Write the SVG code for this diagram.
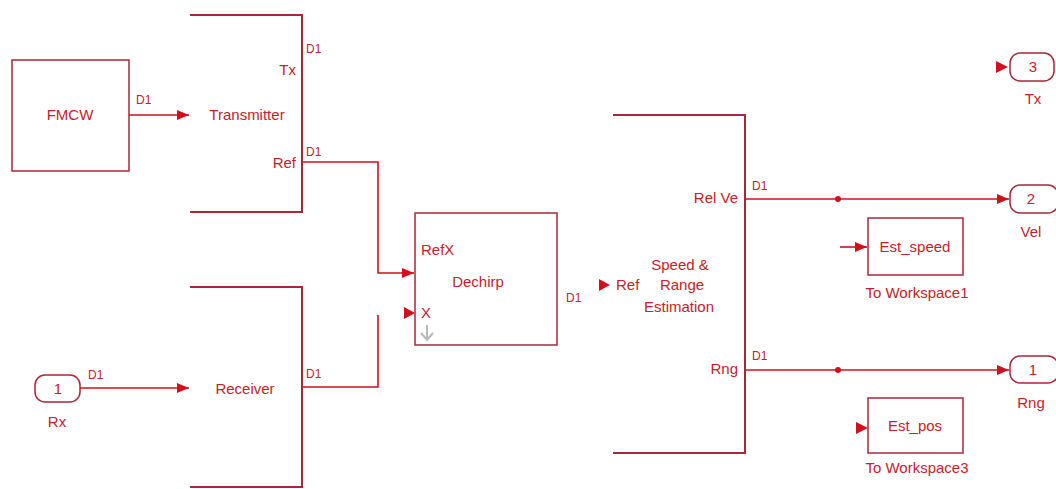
<svg xmlns="http://www.w3.org/2000/svg" width="1056" height="489" viewBox="0 0 1056 489">
<defs>
<marker id="ah" markerWidth="12" markerHeight="10" refX="12" refY="5" orient="auto" markerUnits="userSpaceOnUse">
<path d="M0,0 L12,5 L0,10 Z" fill="#d0101c"/>
</marker>
<style>
text{font-family:"Liberation Sans",Arial,sans-serif;font-size:15px;fill:#c8202a}
.m{text-anchor:middle}
.e{text-anchor:end}
.s{font-size:12px}
.box{fill:#fff;stroke:#a8283a;stroke-width:1.5}
.edge{fill:none;stroke:#a8283a;stroke-width:2}
.w{fill:none;stroke:#d0101c;stroke-width:1.6}
.port{fill:#fff;stroke:#a8283a;stroke-width:1.5}
.tri{fill:#d0101c}
</style>
</defs>
<rect width="1056" height="489" fill="#fff"/>

<g id="fmcw">
<rect class="box" x="12" y="60" width="117" height="111"/>
<text class="m" x="70" y="120">FMCW</text>
</g>

<g id="transmitter">
<path class="edge" d="M190,15 H302 V212 H190"/>
<text class="m" x="247" y="120">Transmitter</text>
<text class="e" x="296" y="75">Tx</text>
<text class="e" x="296" y="168">Ref</text>
</g>

<g id="receiver">
<path class="edge" d="M190,287 H302 V487 H190"/>
<text class="m" x="245" y="394">Receiver</text>
</g>

<g id="rx">
<rect class="port" x="35" y="375" width="45" height="27" rx="10"/>
<text class="m" x="58" y="394">1</text>
<text class="m" x="57" y="427">Rx</text>
</g>

<g id="dechirp">
<rect class="box" x="415" y="213" width="142" height="132"/>
<text x="421" y="255">RefX</text>
<text class="m" x="478" y="287">Dechirp</text>
<text x="421" y="318">X</text>
<path d="M427,325 V338 M421,333 L427,340 L433,333" fill="none" stroke="#b8b8b8" stroke-width="2"/>
</g>

<g id="speed_range">
<path class="edge" d="M613,115 H745 V453 H613"/>
<text class="e" x="738" y="203">Rel Ve</text>
<text class="e" x="738" y="374">Rng</text>
<text class="m" x="680" y="270">Speed &amp;</text>
<text class="m" x="682" y="290">Range</text>
<text class="m" x="679" y="312">Estimation</text>
<text x="616" y="290">Ref</text>
</g>

<g id="out_tx">
<rect class="port" x="1010" y="53" width="44" height="28" rx="10"/>
<text class="m" x="1033" y="72">3</text>
<text class="m" x="1033" y="104">Tx</text>
</g>

<g id="out_vel">
<rect class="port" x="1010" y="185" width="48" height="28" rx="10"/>
<text class="m" x="1031" y="204">2</text>
<text class="m" x="1031" y="237">Vel</text>
</g>

<g id="out_rng">
<rect class="port" x="1010" y="356" width="48" height="27" rx="10"/>
<text class="m" x="1033" y="375">1</text>
<text class="m" x="1031" y="408">Rng</text>
</g>

<g id="est_speed">
<rect class="box" x="868" y="218" width="95" height="57"/>
<text class="m" x="915" y="252">Est_speed</text>
<text class="m" x="917" y="298">To Workspace1</text>
</g>

<g id="est_pos">
<rect class="box" x="868" y="398" width="95" height="55"/>
<text class="m" x="915" y="431">Est_pos</text>
<text class="m" x="917" y="473">To Workspace3</text>
</g>

<g id="connectors">
<path class="w" d="M129,115 H189" marker-end="url(#ah)"/>
<path class="w" d="M80,388 H189" marker-end="url(#ah)"/>
<path class="w" d="M302,162 H378 V273 H414" marker-end="url(#ah)"/>
<path class="w" d="M302,387 H378 V315"/>
<path class="tri" d="M404,307 L415,313 L404,319 Z"/>
<path class="tri" d="M599,279 L610,285 L599,291 Z"/>
<path class="w" d="M745,199 H1009" marker-end="url(#ah)"/>
<path class="w" d="M745,370 H1009" marker-end="url(#ah)"/>
<circle cx="838" cy="199" r="3" fill="#d0101c"/>
<circle cx="838" cy="370" r="3" fill="#d0101c"/>
<path class="w" d="M840,247 H867" marker-end="url(#ah)"/>
<path class="tri" d="M856,422 L868,428 L856,434 Z"/>
<path class="tri" d="M996,61 L1008,67 L996,73 Z"/>
<text class="s" x="136" y="104">D1</text>
<text class="s" x="88" y="379">D1</text>
<text class="s" x="306" y="53">D1</text>
<text class="s" x="306" y="156">D1</text>
<text class="s" x="306" y="378">D1</text>
<text class="s" x="566" y="302">D1</text>
<text class="s" x="752" y="190">D1</text>
<text class="s" x="752" y="360">D1</text>
</g>
</svg>
